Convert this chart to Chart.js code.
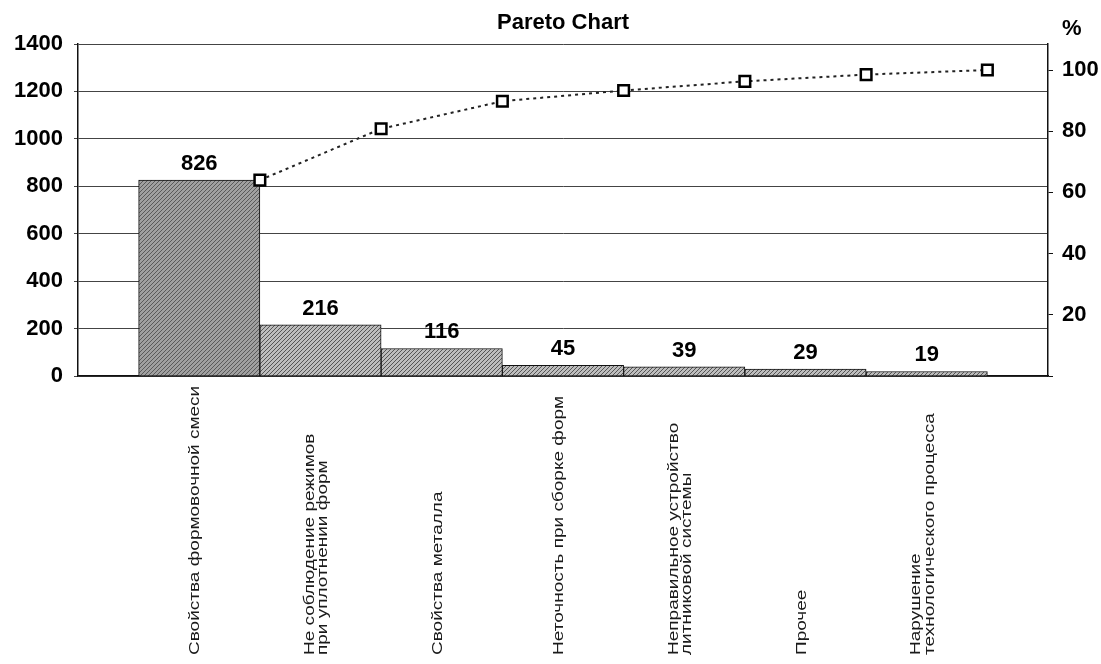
<!DOCTYPE html>
<html lang="ru">
<head>
    <meta charset="UTF-8">
    <title>Pareto Chart</title>
    <script src="https://cdn.jsdelivr.net/npm/chart.js"></script>
    <style>
        html, body { margin: 0; padding: 0; background: #fff; }
        #wrap { width: 1101px; height: 664px; }
    </style>
</head>
<body>
    <div id="wrap"><canvas id="pareto"></canvas></div>

    <script>
        // data
        const categories = [
            'Свойства формовочной смеси',
            'Не соблюдение режимов\nпри уплотнении форм',
            'Свойства металла',
            'Неточность при сборке форм',
            'Неправильное устройство\nлитниковой системы',
            'Прочее',
            'Нарушение\nтехнологического процесса'
        ];
        const counts = [826, 216, 116, 45, 39, 29, 19];
        const cumPercent = [64.0, 80.8, 89.8, 93.3, 96.3, 98.5, 100];
        const countTicks = [0, 200, 400, 600, 800, 1000, 1200, 1400];
        const percentTicks = [20, 40, 60, 80, 100];

        const FONT = '"Liberation Sans", Arial, sans-serif';

        // diagonal hatch fill like the scanned bars
        function makeHatch(base, line) {
            const c = document.createElement('canvas');
            c.width = 4; c.height = 4;
            const g = c.getContext('2d');
            g.fillStyle = base;
            g.fillRect(0, 0, 4, 4);
            g.strokeStyle = line;
            g.lineWidth = 1;
            g.beginPath();
            g.moveTo(0, 4); g.lineTo(4, 0);
            g.moveTo(-1, 1); g.lineTo(1, -1);
            g.moveTo(3, 5); g.lineTo(5, 3);
            g.stroke();
            return g.createPattern(c, 'repeat');
        }
        const barFills = counts.map((v, i) => i === 0
            ? makeHatch('#a0a0a0', '#5a5a5a')
            : makeHatch('#bdbdbd', '#555555'));

        const extraText = {
            id: 'extraText',
            afterDatasetsDraw(chart) {
                const ctx = chart.ctx;
                const xs = chart.scales.x;
                const area = chart.chartArea;
                const bars = chart.getDatasetMeta(1).data;
                ctx.save();
                ctx.fillStyle = '#000';

                // values above bars
                ctx.font = 'bold 22px ' + FONT;
                ctx.textAlign = 'center';
                ctx.textBaseline = 'alphabetic';
                bars.forEach((bar, i) => {
                    ctx.fillText(String(counts[i]), bar.x, bar.y - 10);
                });

                // "%" over the right axis
                ctx.textAlign = 'left';
                ctx.fillText('%', chart.scales.y2.left + 14, area.top - 9);

                // vertical category labels, starting at the bottom
                ctx.font = '19px ' + FONT;
                ctx.fillStyle = '#1a1a1a';
                ctx.textAlign = 'left';
                ctx.textBaseline = 'middle';
                categories.forEach((lab, i) => {
                    const lines = lab.split('\n');
                    const cx = xs.getPixelForValue(i) - 4;
                    lines.forEach((ln, j) => {
                        const x = cx + (j - (lines.length - 1) / 2) * 13.5;
                        ctx.save();
                        ctx.translate(x, area.bottom + 279);
                        ctx.rotate(-Math.PI / 2);
                        ctx.scale(1, 0.8);
                        ctx.fillText(ln, 0, 0);
                        ctx.restore();
                    });
                });
                ctx.restore();
            }
        };

        new Chart(document.getElementById('pareto'), {
            data: {
                datasets: [{
                    type: 'line',
                    label: 'Cumulative %',
                    data: cumPercent.map((v, i) => ({ x: i + 0.5, y: v })),
                    yAxisID: 'y2',
                    borderColor: '#222',
                    borderWidth: 2,
                    borderDash: [3, 4],
                    pointStyle: 'rect',
                    pointRadius: 7.5,
                    pointBorderWidth: 2.5,
                    pointBorderColor: '#000',
                    pointBackgroundColor: '#fff',
                    tension: 0
                }, {
                    type: 'bar',
                    label: 'Count',
                    data: counts.map((v, i) => ({ x: i, y: v })),
                    yAxisID: 'y',
                    backgroundColor: barFills,
                    borderColor: '#111',
                    borderWidth: 1,
                    barPercentage: 1,
                    categoryPercentage: 1
                }]
            },
            options: {
                responsive: true,
                maintainAspectRatio: false,
                animation: false,
                layout: { padding: 0 },
                plugins: {
                    legend: { display: false },
                    tooltip: { enabled: false },
                    title: {
                        display: true,
                        text: 'Pareto Chart',
                        fullSize: false,
                        color: '#000',
                        font: { family: FONT, size: 22, weight: 'bold' },
                        padding: { top: 9.5, bottom: 8.1 }
                    }
                },
                scales: {
                    x: {
                        type: 'linear',
                        min: -1,
                        max: 7,
                        offset: false,
                        ticks: { display: false },
                        grid: { display: false },
                        border: { display: true, color: '#111', width: 1.5 },
                        afterFit(scale) { scale.height = 288; }
                    },
                    y: {
                        position: 'left',
                        min: 0,
                        max: 1400,
                        ticks: {
                            stepSize: 200,
                            color: '#000',
                            padding: 11,
                            font: { family: FONT, size: 22, weight: 'bold' },
                            callback: v => countTicks.includes(v) ? String(v) : ''
                        },
                        grid: { color: '#444', lineWidth: 1, tickLength: 4 },
                        border: { color: '#111', width: 1.5 },
                        afterFit(scale) { scale.width = 78; }
                    },
                    y2: {
                        position: 'right',
                        min: 0,
                        max: 108.5,
                        ticks: {
                            stepSize: 20,
                            includeBounds: false,
                            color: '#000',
                            padding: 9,
                            font: { family: FONT, size: 22, weight: 'bold' },
                            callback: v => percentTicks.includes(v) ? String(v) : ''
                        },
                        grid: { drawOnChartArea: false, color: '#111', tickLength: 5 },
                        border: { color: '#111', width: 1.5 },
                        afterFit(scale) { scale.width = 53; }
                    }
                }
            },
            plugins: [extraText]
        });
    </script>
</body>
</html>
